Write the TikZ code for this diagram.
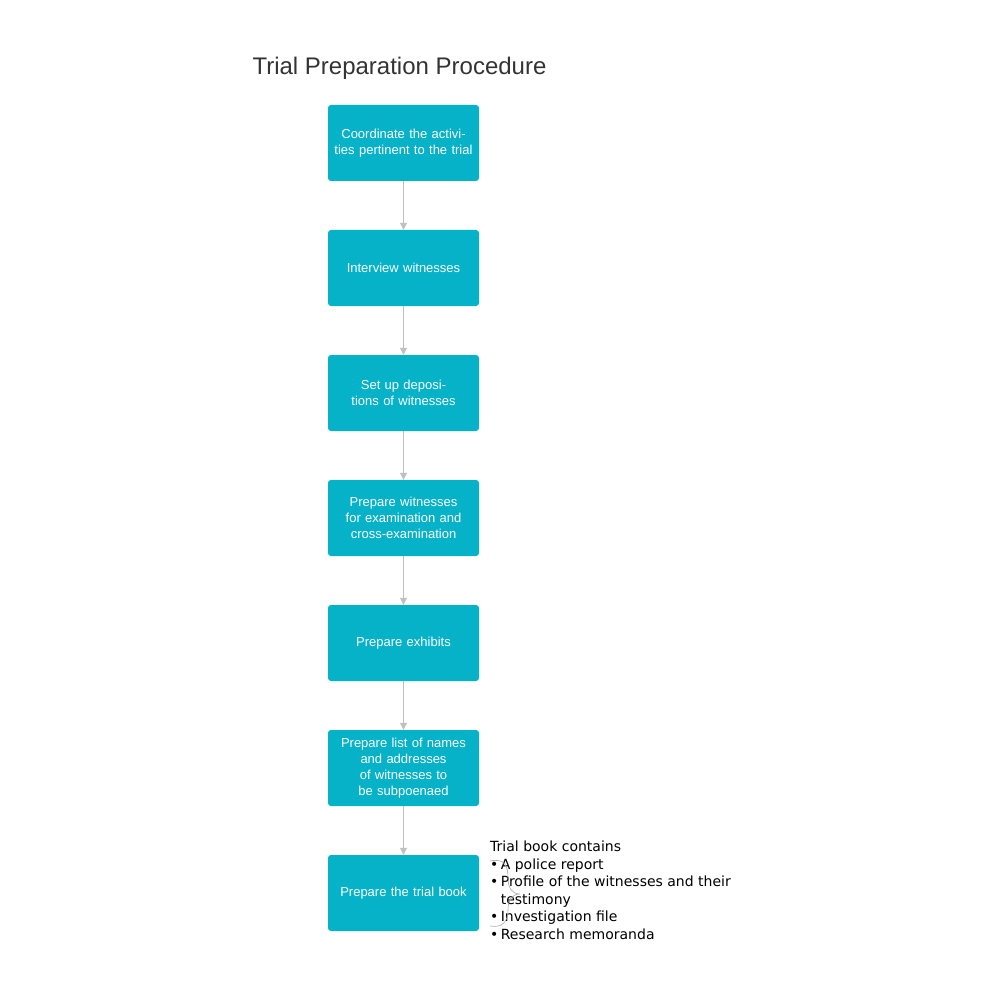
\documentclass[tikz,border=0pt]{standalone}
\usepackage{fontspec}
\setmainfont{Liberation Sans}
\newfontfamily\annfont{DejaVu Sans}
\usetikzlibrary{arrows.meta}
\definecolor{boxc}{HTML}{06B2C8}
\definecolor{arr}{HTML}{C0C0C0}
\tikzset{
 stepbox/.style={fill=boxc,rounded corners=3pt,minimum width=151pt,minimum height=76pt,text width=140pt,align=center,text=white,font=\fontsize{13}{16}\selectfont,inner sep=2pt},
 conn/.style={draw=arr,line width=1pt,-{Triangle[length=7pt,width=7pt]}}
}
\begin{document}
\begin{tikzpicture}[x=1pt,y=-1pt]
\useasboundingbox (0,0) rectangle (1000,1000);
\node[anchor=west,font=\fontsize{24}{28}\selectfont,text=black!80] (title) at (249,68) {Trial Preparation Procedure};
\node[stepbox] (s1) at (403.5,143) {Coordinate the activities pertinent to the trial};
\node[stepbox] (s2) at (403.5,268) {Interview witnesses};
\node[stepbox] (s3) at (403.5,393) {Set up depositions of witnesses};
\node[stepbox] (s4) at (403.5,518) {Prepare witnesses for examination and cross-examination};
\node[stepbox] (s5) at (403.5,643) {Prepare exhibits};
\node[stepbox] (s6) at (403.5,768) {Prepare list of names and addresses of witnesses to be subpoenaed};
\node[stepbox] (s7) at (403.5,893) {Prepare the trial book};
\foreach \a/\b in {s1/s2,s2/s3,s3/s4,s4/s5,s5/s6,s6/s7} \draw[conn] (\a) -- (\b);
\node[anchor=north west,font=\annfont\fontsize{14}{17.5}\selectfont,inner sep=0pt,align=left] (ann) at (490,841) {Trial book contains\\[0pt]
\textbullet\,A police report\\
\textbullet\,Profile of the witnesses and their\\
\hphantom{\textbullet\,}testimony\\
\textbullet\,Investigation file\\
\textbullet\,Research memoranda};
\coordinate (b1) at (490,861);
\coordinate (b2) at (490,926);
\draw[black!35,line width=0.6pt] (b1) .. controls (505,858) and (508,866) .. (508,878) .. controls (508,888) and (512,894) .. (520,894) .. controls (512,894) and (508,900) .. (508,910) .. controls (508,922) and (502,928) .. (b2);
\end{tikzpicture}
\end{document}
